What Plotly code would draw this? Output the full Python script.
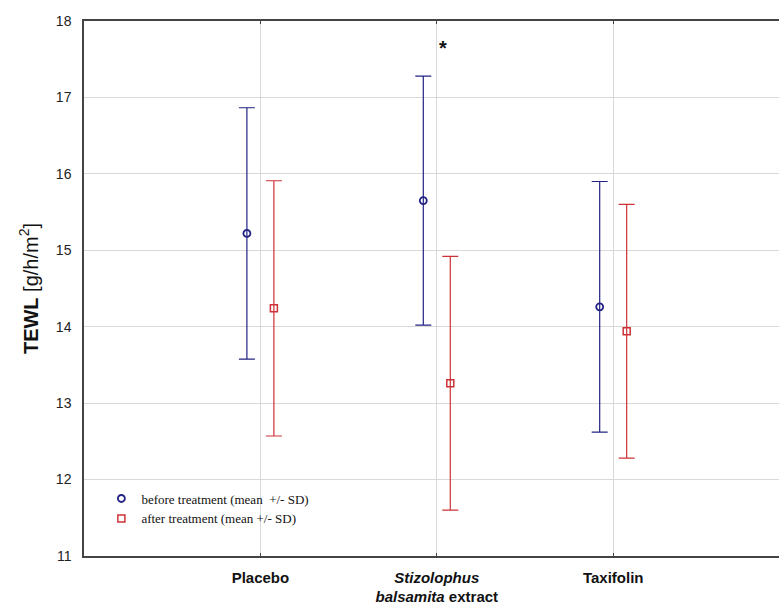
import plotly.graph_objects as go

categories = ["Placebo", "Stizolophus balsamita extract", "Taxifolin"]
tick_labels = ["<b>Placebo</b>",
               "<b><i>Stizolophus</i></b><br><b><i>balsamita</i> extract</b>",
               "<b>Taxifolin</b>"]
before_mean = [15.22, 15.65, 14.26]
before_sd = [1.645, 1.63, 1.64]
after_mean = [14.24, 13.26, 13.94]
after_sd = [1.67, 1.66, 1.66]

blue = "#232384"
red = "#CF3236"

fig = go.Figure()
fig.add_trace(go.Scatter(
    x=categories, y=before_mean, mode="markers",
    name="before treatment (mean  +/- SD)",
    marker=dict(symbol="circle-open", size=7, color=blue, line=dict(width=1.8, color=blue)),
    error_y=dict(type="data", array=before_sd, visible=True, color=blue, thickness=1.2, width=8),
))
fig.add_trace(go.Scatter(
    x=categories, y=after_mean, mode="markers",
    name="after treatment (mean +/- SD)",
    marker=dict(symbol="square-open", size=7, color=red, line=dict(width=1.5, color=red)),
    error_y=dict(type="data", array=after_sd, visible=True, color=red, thickness=1.2, width=8),
))

fig.add_annotation(x=categories[1], y=17.65, text="<b>*</b>", showarrow=False,
                   xshift=6, font=dict(family="Arial", size=20, color="#111"))

fig.update_layout(
    width=779, height=605,
    margin=dict(l=84, r=0, t=21, b=49, autoexpand=False),
    paper_bgcolor="white", plot_bgcolor="white",
    scattermode="group", scattergap=0.694,
    showlegend=True,
    legend=dict(x=0.025, y=0.042, xanchor="left", yanchor="bottom",
                bgcolor="rgba(0,0,0,0)", tracegroupgap=0,
                font=dict(family="Liberation Serif", size=13, color="#111")),
    xaxis=dict(type="category", range=[-1.0, 2.94],
               tickmode="array", tickvals=categories, ticktext=tick_labels,
               showgrid=True, gridcolor="#d9d9d9", gridwidth=1,
               showline=True, linecolor="#444", linewidth=1.5, mirror="ticks",
               ticks="inside", ticklen=3, tickcolor="#444", ticklabelstandoff=7,
               tickfont=dict(family="Arial", size=15, color="#111"),
               automargin=False, zeroline=False),
    yaxis=dict(range=[11, 18], tickvals=[11, 12, 13, 14, 15, 16, 17, 18],
               showgrid=True, gridcolor="#d9d9d9", gridwidth=1,
               showline=True, linecolor="#444", linewidth=1.5,
               ticks="", ticklabelstandoff=8,
               tickfont=dict(family="Arial", size=14, color="#222"),
               title=dict(text="<b>TEWL</b> [g/h/m<sup>2</sup>]", standoff=12,
                          font=dict(family="Arial", size=20, color="#111")),
               automargin=False, zeroline=False),
)

fig.write_html("out.html", config={"displayModeBar": False},
               post_script="document.body.style.margin='0px';document.body.style.overflow='hidden';")
